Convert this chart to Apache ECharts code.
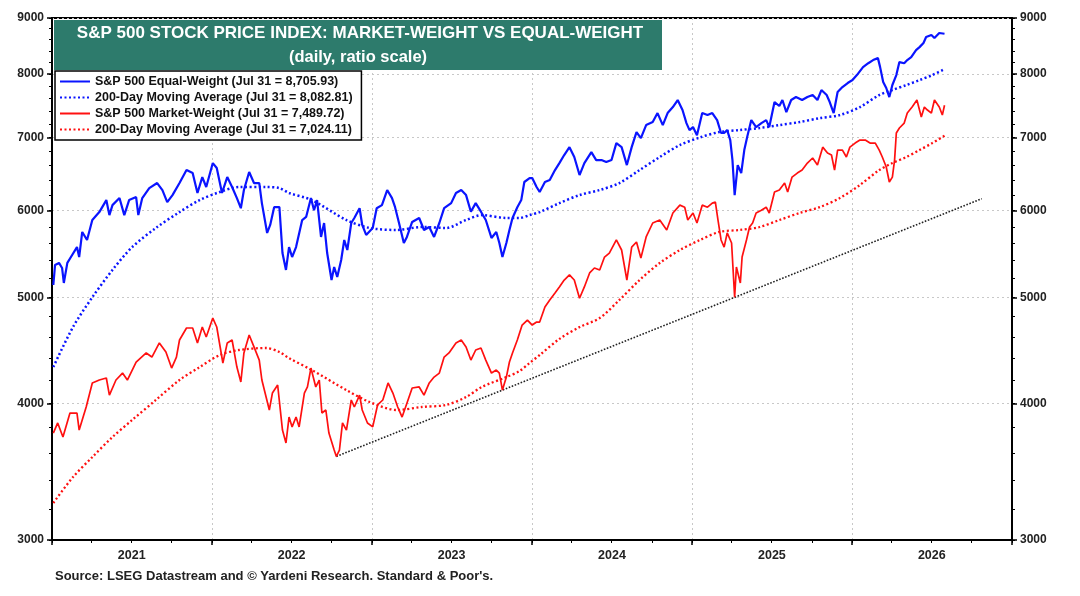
<!DOCTYPE html>
<html lang="en">
<head>
<meta charset="UTF-8">
<title>S&amp;P 500 market-weight vs equal-weight</title>
<script src="https://cdn.jsdelivr.net/npm/echarts@6/dist/echarts.min.js"></script>
<style>
    html, body { margin: 0; padding: 0; background: #fff; }
    #main { width: 1080px; height: 596px; }
</style>
</head>
<body>
<div id="main"></div>
<script>
// S&P 500 equal-weight
var equalWeight = [
    ['2021-01-04', 5131], ['2021-01-08', 5352], ['2021-01-17', 5375], ['2021-01-24', 5318], ['2021-01-28', 5153],
    ['2021-02-05', 5375], ['2021-02-16', 5465], ['2021-02-27', 5557], ['2021-03-04', 5442], ['2021-03-11', 5737],
    ['2021-03-22', 5641], ['2021-04-03', 5883], ['2021-04-19', 5982], ['2021-05-05', 6135], ['2021-05-12', 5944],
    ['2021-05-19', 6070], ['2021-06-04', 6161], ['2021-06-15', 5944], ['2021-06-26', 6135], ['2021-07-12', 6174],
    ['2021-07-17', 5944], ['2021-07-26', 6161], ['2021-08-11', 6292], ['2021-08-29', 6359], ['2021-09-10', 6266],
    ['2021-09-21', 6109], ['2021-10-03', 6200], ['2021-10-19', 6359], ['2021-11-04', 6535], ['2021-11-18', 6494],
    ['2021-11-29', 6227], ['2021-12-10', 6439], ['2021-12-19', 6306], ['2022-01-03', 6632], ['2022-01-12', 6563],
    ['2022-01-24', 6227], ['2022-02-05', 6439], ['2022-02-16', 6306], ['2022-02-27', 6161], ['2022-03-08', 6031],
    ['2022-03-15', 6266], ['2022-03-27', 6508], ['2022-04-07', 6359], ['2022-04-19', 6359], ['2022-04-25', 6096],
    ['2022-05-07', 5725], ['2022-05-14', 5822], ['2022-05-23', 6044], ['2022-06-04', 6044], ['2022-06-11', 5488],
    ['2022-06-19', 5296], ['2022-06-26', 5557], ['2022-07-03', 5442], ['2022-07-12', 5557], ['2022-07-26', 5883],
    ['2022-08-04', 5921], ['2022-08-15', 6161], ['2022-08-22', 6005], ['2022-08-29', 6135], ['2022-09-07', 5677],
    ['2022-09-14', 5846], ['2022-09-21', 5488], ['2022-10-01', 5185], ['2022-10-07', 5329], ['2022-10-14', 5218],
    ['2022-10-23', 5408], ['2022-10-30', 5641], ['2022-11-06', 5523], ['2022-11-15', 5846], ['2022-11-22', 5908],
    ['2022-12-04', 6031], ['2022-12-10', 5822], ['2022-12-19', 5701], ['2023-01-03', 5785], ['2023-01-12', 6031],
    ['2023-01-24', 6070], ['2023-02-05', 6266], ['2023-02-16', 6161], ['2023-02-23', 6044], ['2023-03-04', 5846],
    ['2023-03-15', 5605], ['2023-03-22', 5677], ['2023-04-03', 5859], ['2023-04-19', 5908], ['2023-04-30', 5761],
    ['2023-05-12', 5797], ['2023-05-23', 5677], ['2023-06-04', 5846], ['2023-06-15', 6031], ['2023-07-01', 6096],
    ['2023-07-12', 6227], ['2023-07-24', 6266], ['2023-08-04', 6200], ['2023-08-15', 5987], ['2023-08-26', 6096],
    ['2023-09-07', 5987], ['2023-09-18', 5883], ['2023-10-01', 5665], ['2023-10-12', 5737], ['2023-10-19', 5605],
    ['2023-10-26', 5442], ['2023-11-04', 5605], ['2023-11-11', 5761], ['2023-11-18', 5908], ['2023-11-29', 6044],
    ['2023-12-08', 6135], ['2023-12-15', 6373], ['2023-12-27', 6426], ['2024-01-02', 6426], ['2024-01-12', 6306],
    ['2024-01-19', 6240], ['2024-01-31', 6373], ['2024-02-11', 6399], ['2024-02-23', 6535], ['2024-03-04', 6632],
    ['2024-03-15', 6745], ['2024-03-27', 6858], ['2024-04-07', 6717], ['2024-04-19', 6467], ['2024-04-30', 6632],
    ['2024-05-16', 6787], ['2024-05-27', 6674], ['2024-06-08', 6674], ['2024-06-19', 6646], ['2024-07-01', 6674],
    ['2024-07-12', 6917], ['2024-07-24', 6858], ['2024-08-05', 6604], ['2024-08-16', 6858], ['2024-08-27', 7079],
    ['2024-09-06', 6990], ['2024-09-18', 7184], ['2024-10-03', 7230], ['2024-10-14', 7368], ['2024-10-26', 7184],
    ['2024-11-06', 7368], ['2024-11-18', 7462], ['2024-11-29', 7573], ['2024-12-10', 7415], ['2024-12-19', 7214],
    ['2024-12-26', 7109], ['2025-01-03', 7154], ['2025-01-12', 7033], ['2025-01-24', 7368], ['2025-02-05', 7337],
    ['2025-02-16', 7368], ['2025-02-27', 7260], ['2025-03-08', 7065], ['2025-03-15', 7065], ['2025-03-22', 7109],
    ['2025-03-29', 6961], ['2025-04-03', 6674], ['2025-04-08', 6200], ['2025-04-15', 6604], ['2025-04-23', 6494],
    ['2025-04-30', 6816], ['2025-05-07', 7016], ['2025-05-16', 7260], ['2025-05-27', 7154], ['2025-06-08', 7214],
    ['2025-06-19', 7260], ['2025-06-26', 7154], ['2025-07-08', 7541], ['2025-07-19', 7478], ['2025-07-26', 7573],
    ['2025-08-04', 7383], ['2025-08-15', 7573], ['2025-08-26', 7621], ['2025-09-09', 7573], ['2025-09-21', 7621],
    ['2025-10-03', 7653], ['2025-10-14', 7573], ['2025-10-23', 7734], ['2025-11-04', 7653], ['2025-11-11', 7541],
    ['2025-11-20', 7368], ['2025-11-29', 7701], ['2025-12-10', 7783], ['2025-12-22', 7849], ['2026-01-02', 7898],
    ['2026-01-12', 7981], ['2026-01-26', 8116], ['2026-02-07', 8183], ['2026-02-18', 8237], ['2026-03-01', 8271],
    ['2026-03-06', 8116], ['2026-03-13', 7866], ['2026-03-20', 7767], ['2026-03-27', 7621], ['2026-04-03', 7816],
    ['2026-04-12', 7981], ['2026-04-19', 8203], ['2026-04-30', 8183], ['2026-05-07', 8237], ['2026-05-16', 8288],
    ['2026-05-27', 8412], ['2026-06-04', 8465], ['2026-06-13', 8539], ['2026-06-19', 8647], ['2026-07-01', 8684],
    ['2026-07-08', 8629], ['2026-07-19', 8720], ['2026-07-31', 8705.93]
];

var equalWeightMA = [
    ['2021-01-04', 4317], ['2021-02-18', 4697], ['2021-04-03', 5000], ['2021-05-19', 5296], ['2021-07-03', 5557],
    ['2021-08-26', 5785], ['2021-10-19', 5982], ['2021-12-04', 6135], ['2022-01-19', 6240], ['2022-03-04', 6306],
    ['2022-05-05', 6306], ['2022-06-04', 6292], ['2022-06-26', 6227], ['2022-08-17', 6135], ['2022-11-04', 5883],
    ['2022-12-27', 5785], ['2023-02-27', 5761], ['2023-04-25', 5797], ['2023-06-19', 5785], ['2023-08-04', 5883],
    ['2023-09-09', 5944], ['2023-11-04', 5908], ['2023-12-04', 5908], ['2023-12-27', 5944], ['2024-01-19', 5982],
    ['2024-03-04', 6096], ['2024-04-19', 6200], ['2024-06-04', 6266], ['2024-07-19', 6359], ['2024-09-03', 6535],
    ['2024-10-19', 6717], ['2024-12-04', 6888], ['2025-01-19', 7000], ['2025-03-04', 7079], ['2025-04-19', 7109],
    ['2025-06-04', 7140], ['2025-07-19', 7184], ['2025-09-03', 7230], ['2025-10-19', 7290], ['2025-12-04', 7337],
    ['2026-01-19', 7462], ['2026-03-04', 7653], ['2026-04-03', 7734], ['2026-05-05', 7816], ['2026-06-04', 7898],
    ['2026-07-03', 7981], ['2026-07-31', 8082.81]
];

// S&P 500 market-weight
var marketWeight = [
    ['2021-01-04', 3757], ['2021-01-14', 3838], ['2021-01-26', 3726], ['2021-02-11', 3919], ['2021-02-27', 3919],
    ['2021-03-04', 3781], ['2021-03-20', 3969], ['2021-04-03', 4175], ['2021-04-19', 4201], ['2021-05-05', 4219],
    ['2021-05-12', 4070], ['2021-05-27', 4201], ['2021-06-11', 4263], ['2021-06-22', 4201], ['2021-07-12', 4363],
    ['2021-08-04', 4447], ['2021-08-17', 4409], ['2021-09-03', 4542], ['2021-09-18', 4456], ['2021-10-01', 4308],
    ['2021-10-12', 4409], ['2021-10-19', 4570], ['2021-11-04', 4687], ['2021-11-18', 4687], ['2021-11-29', 4542],
    ['2021-12-10', 4697], ['2021-12-19', 4599], ['2022-01-03', 4786], ['2022-01-12', 4697], ['2022-01-26', 4354],
    ['2022-02-05', 4542], ['2022-02-16', 4570], ['2022-02-27', 4317], ['2022-03-08', 4184], ['2022-03-15', 4447],
    ['2022-03-27', 4619], ['2022-04-07', 4504], ['2022-04-19', 4381], ['2022-04-25', 4201], ['2022-05-12', 3944],
    ['2022-05-19', 4087], ['2022-05-31', 4157], ['2022-06-11', 3781], ['2022-06-19', 3680], ['2022-06-26', 3886],
    ['2022-07-03', 3806], ['2022-07-12', 3886], ['2022-07-19', 3806], ['2022-07-31', 4087], ['2022-08-07', 4140],
    ['2022-08-15', 4308], ['2022-08-26', 4140], ['2022-09-03', 4201], ['2022-09-09', 3919], ['2022-09-18', 3944],
    ['2022-09-25', 3757], ['2022-10-07', 3625], ['2022-10-12', 3577], ['2022-10-19', 3625], ['2022-10-26', 3838],
    ['2022-11-04', 3781], ['2022-11-15', 4028], ['2022-11-22', 3969], ['2022-12-04', 4070], ['2022-12-10', 3944],
    ['2022-12-22', 3838], ['2023-01-03', 3806], ['2023-01-14', 3986], ['2023-01-26', 4028], ['2023-02-07', 4175],
    ['2023-02-18', 4087], ['2023-03-01', 3969], ['2023-03-11', 3886], ['2023-03-22', 4000], ['2023-04-03', 4131],
    ['2023-04-19', 4140], ['2023-04-30', 4070], ['2023-05-12', 4175], ['2023-05-23', 4227], ['2023-06-04', 4263],
    ['2023-06-15', 4409], ['2023-06-26', 4447], ['2023-07-12', 4542], ['2023-07-24', 4570], ['2023-08-04', 4504],
    ['2023-08-15', 4381], ['2023-08-26', 4475], ['2023-09-07', 4494], ['2023-09-18', 4381], ['2023-10-01', 4263],
    ['2023-10-12', 4290], ['2023-10-19', 4263], ['2023-10-26', 4113], ['2023-11-04', 4227], ['2023-11-11', 4363],
    ['2023-11-18', 4447], ['2023-11-29', 4570], ['2023-12-10', 4716], ['2023-12-22', 4766], ['2024-01-02', 4716],
    ['2024-01-12', 4746], ['2024-01-19', 4746], ['2024-01-31', 4899], ['2024-02-11', 4972], ['2024-02-23', 5045],
    ['2024-03-04', 5110], ['2024-03-15', 5185], ['2024-03-27', 5241], ['2024-04-07', 5185], ['2024-04-19', 4990],
    ['2024-04-30', 5110], ['2024-05-12', 5263], ['2024-05-23', 5318], ['2024-06-04', 5296], ['2024-06-15', 5442],
    ['2024-06-26', 5488], ['2024-07-12', 5641], ['2024-07-24', 5523], ['2024-08-05', 5185], ['2024-08-16', 5557],
    ['2024-08-27', 5617], ['2024-09-06', 5430], ['2024-09-18', 5677], ['2024-10-03', 5846], ['2024-10-19', 5883],
    ['2024-11-04', 5761], ['2024-11-18', 5970], ['2024-12-04', 6070], ['2024-12-15', 6044], ['2024-12-22', 5883],
    ['2025-01-03', 5970], ['2025-01-12', 5846], ['2025-01-24', 6070], ['2025-02-05', 6044], ['2025-02-16', 6096],
    ['2025-02-23', 6109], ['2025-03-01', 5883], ['2025-03-08', 5641], ['2025-03-15', 5557], ['2025-03-22', 5725],
    ['2025-04-01', 5605], ['2025-04-08', 5000], ['2025-04-12', 5329], ['2025-04-21', 5153], ['2025-04-25', 5442],
    ['2025-05-05', 5641], ['2025-05-12', 5797], ['2025-05-19', 5846], ['2025-05-27', 5970], ['2025-06-08', 6005],
    ['2025-06-19', 6044], ['2025-06-26', 5970], ['2025-07-08', 6240], ['2025-07-19', 6266], ['2025-07-31', 6359],
    ['2025-08-07', 6240], ['2025-08-17', 6439], ['2025-08-29', 6494], ['2025-09-09', 6535], ['2025-09-21', 6632],
    ['2025-10-03', 6703], ['2025-10-14', 6604], ['2025-10-26', 6858], ['2025-11-06', 6773], ['2025-11-15', 6745],
    ['2025-11-22', 6535], ['2025-11-29', 6816], ['2025-12-10', 6816], ['2025-12-19', 6717], ['2025-12-27', 6858],
    ['2026-01-08', 6917], ['2026-01-19', 6961], ['2026-01-31', 6961], ['2026-02-11', 6917], ['2026-02-23', 6917],
    ['2026-03-04', 6816], ['2026-03-11', 6717], ['2026-03-20', 6577], ['2026-03-27', 6373], ['2026-04-03', 6439],
    ['2026-04-08', 6674], ['2026-04-12', 7065], ['2026-04-19', 7140], ['2026-04-30', 7214], ['2026-05-07', 7368],
    ['2026-05-18', 7462], ['2026-05-29', 7573], ['2026-06-08', 7306], ['2026-06-15', 7462], ['2026-06-22', 7415],
    ['2026-07-01', 7368], ['2026-07-08', 7573], ['2026-07-19', 7462], ['2026-07-26', 7337], ['2026-07-31', 7489.72]
];

var marketWeightMA = [
    ['2021-01-04', 3243], ['2021-02-18', 3425], ['2021-04-03', 3572], ['2021-05-19', 3726], ['2021-07-03', 3862],
    ['2021-08-26', 4028], ['2021-10-19', 4201], ['2021-12-04', 4317], ['2022-01-19', 4428], ['2022-03-04', 4475],
    ['2022-05-05', 4494], ['2022-06-04', 4456], ['2022-06-26', 4399], ['2022-08-17', 4290], ['2022-11-04', 4113],
    ['2022-12-27', 4011], ['2023-02-27', 3944], ['2023-04-25', 3969], ['2023-06-19', 3986], ['2023-08-04', 4053],
    ['2023-09-09', 4140], ['2023-11-04', 4227], ['2023-12-04', 4281], ['2023-12-27', 4354], ['2024-01-19', 4428],
    ['2024-03-04', 4580], ['2024-04-19', 4696], ['2024-06-04', 4786], ['2024-07-19', 4972], ['2024-09-03', 5185],
    ['2024-10-19', 5374], ['2024-12-04', 5523], ['2025-01-19', 5641], ['2025-03-04', 5737], ['2025-04-19', 5761],
    ['2025-06-04', 5797], ['2025-07-19', 5883], ['2025-09-03', 5970], ['2025-10-19', 6044], ['2025-12-04', 6161],
    ['2026-01-19', 6333], ['2026-03-04', 6535], ['2026-04-03', 6632], ['2026-05-05', 6717], ['2026-06-04', 6816],
    ['2026-07-03', 6917], ['2026-07-31', 7024.11]
];

// support line through the Oct 2022 and Apr 2025 lows
var trendLine = [['2022-10-12', 3577], ['2026-10-24', 6153]];

var yTicks = [3000, 4000, 5000, 6000, 7000, 8000, 9000];
var years = [2021, 2022, 2023, 2024, 2025, 2026];

var legendNames = [
    'S&P 500 Equal-Weight (Jul 31 = 8,705.93)',
    '200-Day Moving Average (Jul 31 = 8,082.81)',
    'S&P 500 Market-Weight (Jul 31 = 7,489.72)',
    '200-Day Moving Average (Jul 31 = 7,024.11) '
];

var FONT = 'Liberation Sans, Arial, Helvetica, sans-serif';

function toTime(s) {
    var p = s.split('-');
    return new Date(+p[0], +p[1] - 1, +p[2]).getTime();
}
function toPoints(rows) {
    return rows.map(function (r) { return [toTime(r[0]), r[1]]; });
}

// tick positions on the x axis (timestamps)
var yearStarts = [], quarterStarts = [], midYears = [];
for (var i = 0; i < years.length; i++) {
    yearStarts.push(new Date(years[i], 0, 1).getTime());
    midYears.push(new Date(years[i], 6, 2).getTime());
    for (var q = 0; q < 12; q += 3) quarterStarts.push(new Date(years[i], q, 1).getTime());
}
yearStarts.push(new Date(2027, 0, 1).getTime());
quarterStarts.push(new Date(2027, 0, 1).getTime());

var minorY = [];
for (var v = 3000; v <= 9000; v += 200) minorY.push(v);

var xMin = new Date(2021, 0, 1).getTime();
var xMax = new Date(2027, 0, 1).getTime();

var myChart = echarts.init(document.getElementById('main'));

function yAxisMain(pos) {
    return {
        type: 'log', logBase: 10, min: 3000, max: 9000, position: pos,
        axisLine: {show: true, lineStyle: {color: '#000', width: 2}},
        axisTick: {show: true, customValues: yTicks, length: 5, lineStyle: {color: '#000', width: 1.5}},
        axisLabel: {
            customValues: yTicks, margin: 8,
            color: '#222', fontFamily: FONT, fontWeight: 'bold', fontSize: 12,
            formatter: function (val) { return String(Math.round(val)); }
        },
        splitLine: {show: pos === 'left', lineStyle: {color: '#c8c8c8', type: [2, 3], width: 1}}
    };
}

function yAxisMinor(pos) {
    return {
        type: 'log', logBase: 10, min: 3000, max: 9000, position: pos,
        axisLine: {show: false},
        axisTick: {show: true, customValues: minorY, length: 3, lineStyle: {color: '#000', width: 1}},
        axisLabel: {show: false},
        splitLine: {show: false}
    };
}

var option = {
    animation: false,
    backgroundColor: '#fff',
    grid: {
        left: 52, right: 68, top: 18, bottom: 56,
        show: true, borderColor: '#000', borderWidth: 2,
        containLabel: false, outerBoundsMode: 'none'
    },
    legend: {
        orient: 'vertical', left: 55, top: 71,
        data: legendNames,
        itemWidth: 30, itemHeight: 10, itemGap: 3,
        padding: [4, 6, 4, 4],
        itemStyle: {opacity: 0},
        backgroundColor: '#fff', borderColor: '#000', borderWidth: 1.5, borderRadius: 0,
        textStyle: {color: '#111', fontFamily: FONT, fontWeight: 'bold', fontSize: 12.5},
        selectedMode: false
    },
    xAxis: [{
        type: 'value', min: xMin, max: xMax,
        axisLine: {show: true, lineStyle: {color: '#000', width: 2}},
        axisTick: {show: true, customValues: yearStarts, length: 5, lineStyle: {color: '#000', width: 1.5}},
        axisLabel: {
            customValues: midYears, margin: 9,
            color: '#222', fontFamily: FONT, fontWeight: 'bold', fontSize: 12.5,
            formatter: function (val) { return String(new Date(val).getFullYear()); }
        },
        splitLine: {show: true, lineStyle: {color: '#c8c8c8', type: [2, 3], width: 1}}
    }, {
        type: 'value', min: xMin, max: xMax, position: 'bottom',
        axisLine: {show: false},
        axisTick: {show: true, customValues: quarterStarts, length: 3, lineStyle: {color: '#000', width: 1}},
        axisLabel: {show: false},
        splitLine: {show: false}
    }],
    yAxis: [yAxisMain('left'), yAxisMain('right'), yAxisMinor('left'), yAxisMinor('right')],
    graphic: [
        {
            type: 'rect', left: 54, top: 20, z: 100,
            shape: {width: 608, height: 50},
            style: {fill: '#2d7b6c'}
        },
        {
            type: 'text', z: 101, x: 360, y: 33,
            style: {
                text: 'S&P 500 STOCK PRICE INDEX: MARKET-WEIGHT VS EQUAL-WEIGHT',
                fill: '#fff', font: 'bold 17px ' + FONT, align: 'center', verticalAlign: 'middle'
            }
        },
        {
            type: 'text', z: 101, x: 358, y: 57,
            style: {
                text: '(daily, ratio scale)',
                fill: '#fff', font: 'bold 16.5px ' + FONT, align: 'center', verticalAlign: 'middle'
            }
        },
        {
            type: 'text', z: 101, x: 55, y: 576,
            style: {
                text: "Source: LSEG Datastream and \u00A9 Yardeni Research. Standard & Poor's.",
                fill: '#222', font: 'bold 13px ' + FONT, verticalAlign: 'middle'
            }
        }
    ],
    series: [
        {
            name: legendNames[0], type: 'line', data: toPoints(equalWeight),
            showSymbol: false, symbol: 'none', z: 4,
            lineStyle: {color: '#0a14ff', width: 2.2}, itemStyle: {color: '#0a14ff'}
        },
        {
            name: legendNames[1], type: 'line', data: toPoints(equalWeightMA), smooth: 0.3,
            showSymbol: false, symbol: 'none', z: 3,
            lineStyle: {color: '#0a14ff', width: 2.5, type: [2, 2.5]}, itemStyle: {color: '#0a14ff'}
        },
        {
            name: legendNames[2], type: 'line', data: toPoints(marketWeight),
            showSymbol: false, symbol: 'none', z: 4,
            lineStyle: {color: '#ff1010', width: 1.7}, itemStyle: {color: '#ff1010'}
        },
        {
            name: legendNames[3], type: 'line', data: toPoints(marketWeightMA), smooth: 0.3,
            showSymbol: false, symbol: 'none', z: 3,
            lineStyle: {color: '#ff1010', width: 2.3, type: [2, 2.5]}, itemStyle: {color: '#ff1010'}
        },
        {
            name: 'trend', type: 'line', data: toPoints(trendLine),
            showSymbol: false, symbol: 'none', z: 2, silent: true,
            lineStyle: {color: '#222', width: 1.6, type: [1.6, 1.6]}
        }
    ]
};

myChart.setOption(option);
</script>
</body>
</html>
